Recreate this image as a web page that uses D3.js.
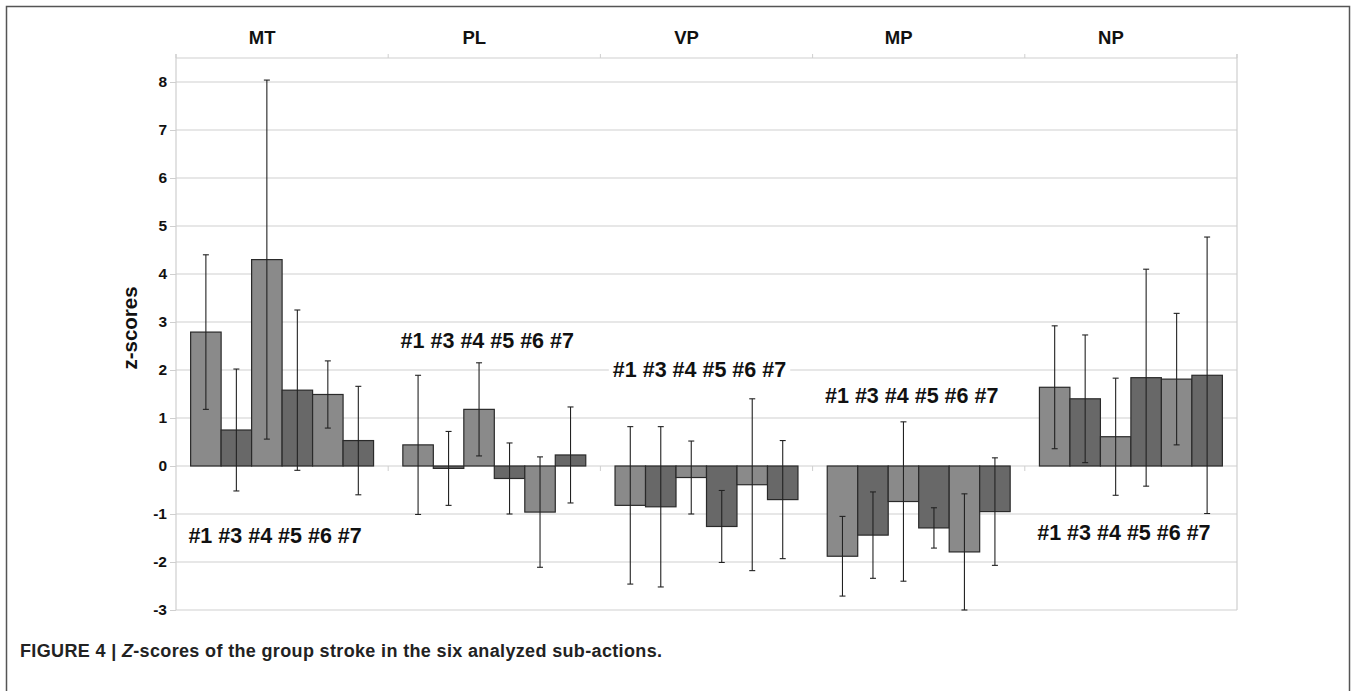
<!DOCTYPE html>
<html><head><meta charset="utf-8">
<script src="https://cdn.jsdelivr.net/npm/d3@7"></script>
<style>body{margin:0;background:#fff;}svg{display:block;font-family:"Liberation Sans",Arial,sans-serif;}</style>
</head><body>
<svg id="c" width="1356" height="691"></svg>
<script>
const groups = ["MT","PL","VP","MP","NP"];
const subjects = ["#1","#3","#4","#5","#6","#7"];
const valMT = [2.79, 0.75, 4.30, 1.58, 1.49, 0.53];
const errMT = [1.61, 1.27, 3.74, 1.67, 0.70, 1.13];
const valPL = [0.44, -0.05, 1.18, -0.26, -0.96, 0.23];
const errPL = [1.45, 0.77, 0.97, 0.74, 1.15, 1.00];
const valVP = [-0.82, -0.85, -0.24, -1.26, -0.39, -0.70];
const errVP = [1.64, 1.67, 0.76, 0.75, 1.79, 1.23];
const valMP = [-1.88, -1.44, -0.74, -1.29, -1.79, -0.95];
const errMP = [0.83, 0.90, 1.66, 0.42, 1.21, 1.12];
const valNP = [1.64, 1.40, 0.61, 1.84, 1.81, 1.89];
const errNP = [1.28, 1.33, 1.22, 2.26, 1.37, 2.88];
const labelY = [-1.45, 2.6, 2.0, 1.45, -1.4];
const yTicks = [-3,-2,-1,0,1,2,3,4,5,6,7,8];

const values = [valMT, valPL, valVP, valMP, valNP];
const errors = [errMT, errPL, errVP, errMP, errNP];
const data = [];
groups.forEach((g,gi)=>subjects.forEach((s,si)=>data.push({g,s,si,v:values[gi][si],e:errors[gi][si]})));

const svg = d3.select("#c");
const L=176, R=1237, T=58, B=610;
const x0 = d3.scaleBand().domain(groups).range([L,R]).paddingInner(0).paddingOuter(0);
const x1 = d3.scaleBand().domain(subjects).range([0,x0.bandwidth()]).paddingOuter(0.48).paddingInner(0);
const y = d3.scaleLinear().domain([-3,8.5]).range([B,T]);

// outer frame
svg.append("rect").attr("x",6.5).attr("y",6.5).attr("width",1343).attr("height",700)
  .attr("fill","none").attr("stroke","#555").attr("stroke-width",1.5);

// gridlines
svg.append("g").selectAll("line").data(yTicks).join("line")
  .attr("x1",L).attr("x2",R).attr("y1",d=>y(d)).attr("y2",d=>y(d))
  .attr("stroke","#cfcfcf").attr("stroke-width",1.2);
svg.append("line").attr("x1",L).attr("x2",R).attr("y1",T).attr("y2",T).attr("stroke","#cfcfcf").attr("stroke-width",1.2);
svg.append("line").attr("x1",R).attr("x2",R).attr("y1",T-4).attr("y2",B).attr("stroke","#cfcfcf").attr("stroke-width",1.2);

// y axis
const yAxis = d3.axisLeft(y).tickValues(yTicks).tickSize(6).tickPadding(3).tickFormat(d=>String(d));
const ya = svg.append("g").attr("transform",`translate(${L},0)`).call(yAxis);
ya.select(".domain").attr("stroke","#cfcfcf").attr("stroke-width",1.2).attr("d",`M0,${T-4}V${B}`);
ya.selectAll(".tick line").attr("stroke","#cfcfcf");
ya.selectAll("text").attr("font-size",15.5).attr("font-weight","bold").attr("fill","#111")
  .attr("font-family","Liberation Sans, Arial, sans-serif");

// top category axis
const xAxis = d3.axisTop(x0).tickSize(0).tickPadding(14);
const xa = svg.append("g").attr("transform",`translate(0,${T})`).call(xAxis);
xa.select(".domain").remove();
xa.selectAll("text").attr("font-size",18.5).attr("font-weight","bold").attr("fill","#111")
  .attr("dx",-20).attr("font-family","Liberation Sans, Arial, sans-serif");
svg.append("g").selectAll("line").data(d3.range(6)).join("line")
  .attr("x1",i=>L+i*x0.bandwidth()).attr("x2",i=>L+i*x0.bandwidth())
  .attr("y1",T-4).attr("y2",T).attr("stroke","#cfcfcf");
svg.append("g").selectAll("line").data(d3.range(1,5)).join("line")
  .attr("x1",i=>L+i*x0.bandwidth()).attr("x2",i=>L+i*x0.bandwidth())
  .attr("y1",y(0)).attr("y2",y(0)+5).attr("stroke","#cfcfcf");

// y label
svg.append("text").attr("transform",`translate(137,${(y(8)+y(-3))/2-18}) rotate(-90)`)
  .attr("text-anchor","middle").attr("font-size",20.5).attr("font-weight","bold").attr("fill","#111").text("z-scores");

// bars
const colors = {"#1":"#8a8a8a","#3":"#686868","#4":"#8a8a8a","#5":"#686868","#6":"#8a8a8a","#7":"#686868"};
svg.append("g").selectAll("rect").data(data).join("rect")
  .attr("x",d=>x0(d.g)+x1(d.s))
  .attr("width",x1.bandwidth())
  .attr("y",d=>y(Math.max(0,d.v)))
  .attr("height",d=>Math.abs(y(d.v)-y(0)))
  .attr("fill",d=>colors[d.s]).attr("stroke","#2a2a2a").attr("stroke-width",1.2);

// error bars
const eb = svg.append("g").attr("stroke","#222").attr("stroke-width",1.1);
data.forEach(d=>{
  const cx = x0(d.g)+x1(d.s)+x1.bandwidth()/2;
  eb.append("line").attr("x1",cx).attr("x2",cx).attr("y1",y(d.v+d.e)).attr("y2",y(d.v-d.e));
  eb.append("line").attr("x1",cx-3).attr("x2",cx+3).attr("y1",y(d.v+d.e)).attr("y2",y(d.v+d.e));
  eb.append("line").attr("x1",cx-3).attr("x2",cx+3).attr("y1",y(d.v-d.e)).attr("y2",y(d.v-d.e));
});

// subject labels
const lab = svg.append("g");
groups.forEach((g,gi)=>{
  const cx = x0(g)+x0.bandwidth()/2 - 7;
  const t = lab.append("text").attr("x",cx).attr("y",y(labelY[gi])+7)
    .attr("text-anchor","middle").attr("font-size",21.5).attr("font-weight","bold").attr("fill","#111")
    .text(subjects.join(" "));
  const bb = t.node().getBBox();
  lab.insert("rect","text").attr("x",bb.x-4).attr("y",bb.y).attr("width",bb.width+8).attr("height",bb.height).attr("fill","#fff");
});

// caption
const cap = svg.append("text").attr("x",20).attr("y",657).attr("font-size",18).attr("font-weight","bold").attr("fill","#222");
cap.append("tspan").text("FIGURE 4 | ");
cap.append("tspan").attr("font-style","italic").text("Z");
cap.append("tspan").text("-scores of the group stroke in the six analyzed sub-actions.");
const cw = cap.node().getComputedTextLength();
if (cw > 0) cap.attr("textLength",642).attr("lengthAdjust","spacing");
</script>
</body></html>
